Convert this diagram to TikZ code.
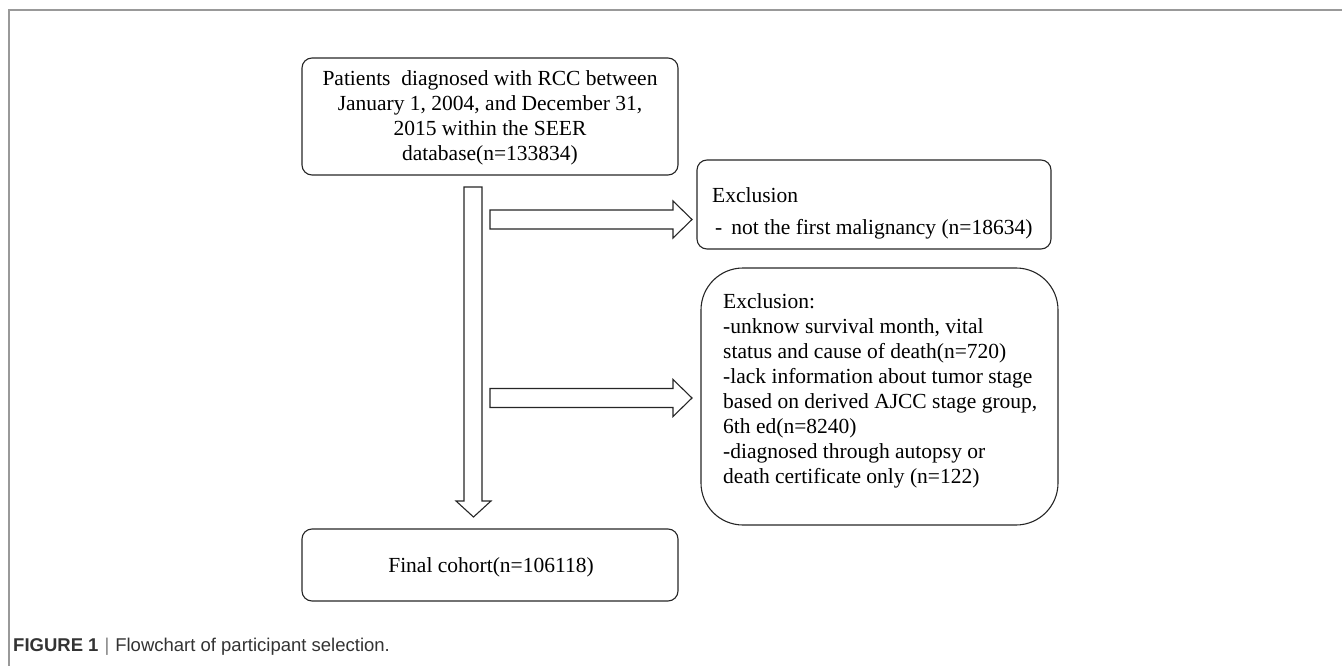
\documentclass[tikz,border=0pt]{standalone}
\usepackage{fontspec}
\setmainfont{Liberation Serif}
\newfontfamily\capfont{Liberation Sans}
\begin{document}
\begin{tikzpicture}[x=1pt,y=-1pt,
  box/.style={draw=black!85, line width=1.1pt, rounded corners=10pt, inner sep=0pt},
  txt/.style={font=\fontsize{21.5}{25}\selectfont, inner sep=0pt},
  blk/.style={draw=black!85, line width=1.1pt, fill=white, line join=miter},
  frame/.style={draw=black!40, line width=1.2pt}]
\useasboundingbox (0,0) rectangle (1342,666);
% frame
\coordinate (fbl) at (9,666);
\coordinate (ftl) at (9,10);
\coordinate (ftr) at (1342,10);
\draw[frame] (fbl) -- (ftl) -- (ftr);
% boxes
\node[box, minimum width=376pt, minimum height=117pt] (start) at (490,116.5) {};
\node[txt, align=center] (starttxt) at (490,118) {Patients\ \ diagnosed with RCC between\\January 1, 2004, and December 31,\\2015 within the SEER\\database(n=133834)};
\node[box, minimum width=354pt, minimum height=89pt] (excl1) at (874,204.5) {};
\node[txt, anchor=west, align=left, font=\fontsize{21.5}{32}\selectfont] (excl1txt) at (712,213) {Exclusion\\\hspace{3pt}-\hspace{9pt}not the first malignancy (n=18634)};
\node[box, rounded corners=42pt, minimum width=357pt, minimum height=257pt] (excl2) at (879.5,396.5) {};
\node[txt, anchor=west, align=left] (excl2txt) at (723,391) {Exclusion:\\-unknow survival month, vital\\status and cause of death(n=720)\\-lack information about tumor stage\\based on derived AJCC stage group,\\6th ed(n=8240)\\-diagnosed through autopsy or\\death certificate only (n=122)};
\node[box, minimum width=376pt, minimum height=72pt] (final) at (490,565) {};
\node[txt] (finaltxt) at (491,567) {Final cohort(n=106118)};
% block arrows
\draw[blk] (464,187) -- (482,187) -- (482,501) -- (491,501) -- (473.5,517) -- (456,501) -- (464,501) -- cycle;
\draw[blk] (490,210) -- (673,210) -- (673,201) -- (692,219.5) -- (673,238) -- (673,229) -- (490,229) -- cycle;
\draw[blk] (490,388.5) -- (673,388.5) -- (673,379.5) -- (692,398) -- (673,416.5) -- (673,407.5) -- (490,407.5) -- cycle;
% caption
\node[anchor=base west, inner sep=0pt, font=\capfont\fontsize{18.5}{18.5}\selectfont, text=black!80] (caption) at (13,651) {\textbf{FIGURE 1}\hspace{6pt}{\color{black!50}|}\hspace{6pt}Flowchart of participant selection.};
\end{tikzpicture}
\end{document}
